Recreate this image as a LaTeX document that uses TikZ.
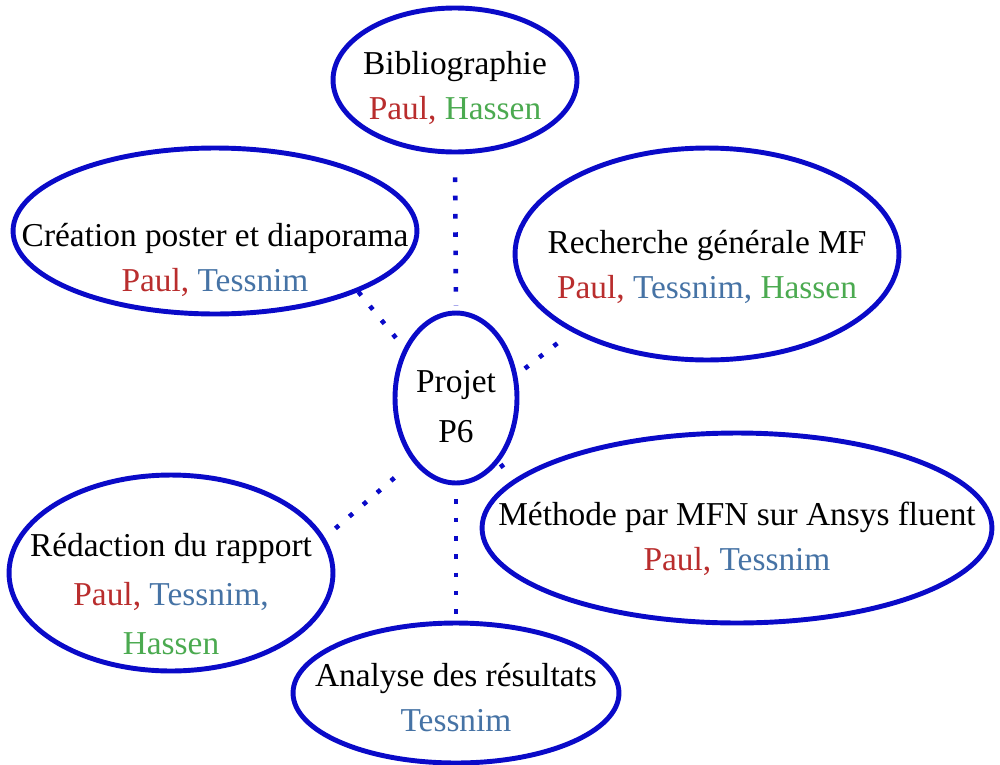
\documentclass[tikz,border=0pt]{standalone}
\usepackage{fontspec}
\setmainfont{Liberation Serif}
\usetikzlibrary{shapes.geometric}

\definecolor{ringblue}{RGB}{10,10,200}
\definecolor{paulred}{RGB}{185,45,45}
\definecolor{tessblue}{RGB}{70,115,165}
\definecolor{hassgreen}{RGB}{75,170,80}

\newcommand{\duty}[2]{\raisebox{#1}[0pt][0pt]{\makebox[0pt]{\begin{tabular}{@{}c@{}}#2\end{tabular}}}}

\tikzset{
    task/.style={draw=ringblue, line width=2.8pt, ellipse, inner sep=0pt, font=\fontsize{19}{25.5}\selectfont},
    link/.style={ringblue, line width=2.6pt, dash pattern=on 2.6pt off 7.8pt}
}

\begin{document}
\begin{tikzpicture}[x=0.02cm, y=-0.02cm]
    \useasboundingbox (0,0) rectangle (1000,764);
    \node[task, minimum width=4.88cm, minimum height=2.88cm] (bib) at (455,80)
        {\duty{-9.1pt}{Bibliographie\\\textcolor{paulred}{Paul,} \textcolor{hassgreen}{Hassen}}};
    \node[task, minimum width=8.08cm, minimum height=3.32cm] (cre) at (215,231)
        {\duty{-21pt}{Création poster et diaporama\\\textcolor{paulred}{Paul,} \textcolor{tessblue}{Tessnim}}};
    \node[task, minimum width=7.68cm, minimum height=4.24cm] (rech) at (707,254)
        {\duty{-11.9pt}{Recherche générale MF\\\textcolor{paulred}{Paul,} \textcolor{tessblue}{Tessnim,} \textcolor{hassgreen}{Hassen}}};
    \node[task, minimum width=2.44cm, minimum height=3.4cm] (proj) at (456,398)
        {\duty{-10.2pt}{Projet\\[3pt]P6}};
    \node[task, minimum width=6.48cm, minimum height=3.92cm] (red) at (171,573)
        {\duty{-17.6pt}{Rédaction du rapport\\[2.5pt]\textcolor{paulred}{Paul,} \textcolor{tessblue}{Tessnim,}\\[2.5pt]\textcolor{hassgreen}{Hassen}}};
    \node[task, minimum width=10.2cm, minimum height=3.8cm] (meth) at (737,528)
        {\duty{-10.8pt}{Méthode par MFN sur Ansys fluent\\\textcolor{paulred}{Paul,} \textcolor{tessblue}{Tessnim}}};
    \node[task, minimum width=6.52cm, minimum height=2.8cm] (ana) at (456,693)
        {\duty{-8.5pt}{Analyse des résultats\\\textcolor{tessblue}{Tessnim}}};

    % dotted links to the project
    \draw[link, shorten <=0.46cm, shorten >=0.1cm] (bib.south) -- (proj.north);
    \draw[link] (cre.-23) -- (proj.136);
    \draw[link, shorten <=0.37cm] (rech.210) -- (proj.21);
    \draw[link, shorten <=0.28cm, shorten >=0.24cm] (red.13) -- (proj.236);
    \draw[link, shorten <=0.05cm, shorten >=0.25cm] (proj.-56) -- (meth.168);
    \draw[link, shorten <=0.28cm, shorten >=0.1cm] (proj.south) -- (ana.north);
\end{tikzpicture}
\end{document}
